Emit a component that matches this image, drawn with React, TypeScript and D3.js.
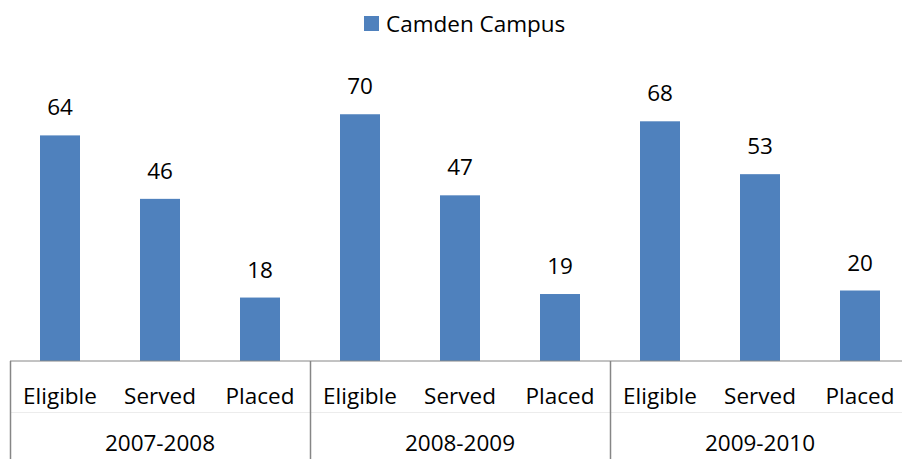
import { useEffect, useRef } from "react";
import * as d3 from "d3";

const years = ["2007-2008", "2008-2009", "2009-2010"];
const stages = ["Eligible", "Served", "Placed"];
const camden = [
  [64, 46, 18],
  [70, 47, 19],
  [68, 53, 20],
];
const seriesName = "Camden Campus";

export default function App() {
  const svgRef = useRef(null);

  useEffect(() => {
    const width = 902;
    const height = 459;
    const left = 10;
    const right = 910;
    const base = 361;
    const font = "'Open Sans', sans-serif";
    const fs = 22.5;

    const svg = d3.select(svgRef.current).attr("width", width).attr("height", height);
    svg.selectAll("*").remove();

    const rows = years.flatMap((y, gi) =>
      stages.map((s, si) => ({ key: `${y}|${s}`, year: y, stage: s, value: camden[gi][si] }))
    );

    const x = d3
      .scaleBand()
      .domain(rows.map((d) => d.key))
      .range([left, right])
      .paddingInner(0.6)
      .paddingOuter(0.3);

    const xGroup = d3.scaleBand().domain(years).range([left, right]);

    const y = d3.scaleLinear().domain([0, 80]).range([base, 79]);

    // bars
    svg
      .selectAll("rect.bar")
      .data(rows)
      .join("rect")
      .attr("class", "bar")
      .attr("x", (d) => x(d.key) || 0)
      .attr("y", (d) => y(d.value))
      .attr("width", x.bandwidth())
      .attr("height", (d) => y(0) - y(d.value))
      .attr("fill", "#4F81BD");

    // value labels
    svg
      .selectAll("text.val")
      .data(rows)
      .join("text")
      .attr("class", "val")
      .attr("x", (d) => (x(d.key) || 0) + x.bandwidth() / 2)
      .attr("y", (d) => y(d.value) - 20)
      .attr("text-anchor", "middle")
      .attr("font-family", font)
      .attr("font-size", fs)
      .attr("fill", "#000")
      .text((d) => d.value);

    // axis line
    svg
      .append("line")
      .attr("x1", left)
      .attr("x2", right)
      .attr("y1", base)
      .attr("y2", base)
      .attr("stroke", "#868686")
      .attr("stroke-width", 1);

    // faint line between label levels
    svg
      .append("line")
      .attr("x1", left)
      .attr("x2", right)
      .attr("y1", 412.5)
      .attr("y2", 412.5)
      .attr("stroke", "#ececec")
      .attr("stroke-width", 1);

    // group separators
    const seps = [...years.map((g) => xGroup(g) || 0), right];
    svg
      .selectAll("line.sep")
      .data(seps)
      .join("line")
      .attr("class", "sep")
      .attr("x1", (d) => Math.round(d) + 0.5)
      .attr("x2", (d) => Math.round(d) + 0.5)
      .attr("y1", base)
      .attr("y2", height)
      .attr("stroke", "#868686")
      .attr("stroke-width", 1.5);

    // stage labels
    svg
      .selectAll("text.cat")
      .data(rows)
      .join("text")
      .attr("class", "cat")
      .attr("x", (d) => (x(d.key) || 0) + x.bandwidth() / 2)
      .attr("y", 404)
      .attr("text-anchor", "middle")
      .attr("font-family", font)
      .attr("font-size", fs)
      .attr("fill", "#000")
      .text((d) => d.stage);

    // year labels
    svg
      .selectAll("text.grp")
      .data(years)
      .join("text")
      .attr("class", "grp")
      .attr("x", (d) => (xGroup(d) || 0) + xGroup.bandwidth() / 2)
      .attr("y", 451)
      .attr("text-anchor", "middle")
      .attr("font-family", font)
      .attr("font-size", fs)
      .attr("fill", "#000")
      .text((d) => d);

    // legend
    const lg = svg.append("g").attr("transform", "translate(364,16)");
    lg.append("rect").attr("width", 15).attr("height", 15).attr("fill", "#4F81BD");
    lg.append("text")
      .attr("x", 22)
      .attr("y", 16)
      .attr("font-family", font)
      .attr("font-size", fs)
      .attr("fill", "#000")
      .text(seriesName);
  }, []);

  return (
    <div style={{ position: "absolute", left: 0, top: 0 }}>
      <svg ref={svgRef} style={{ display: "block" }}></svg>
    </div>
  );
}
